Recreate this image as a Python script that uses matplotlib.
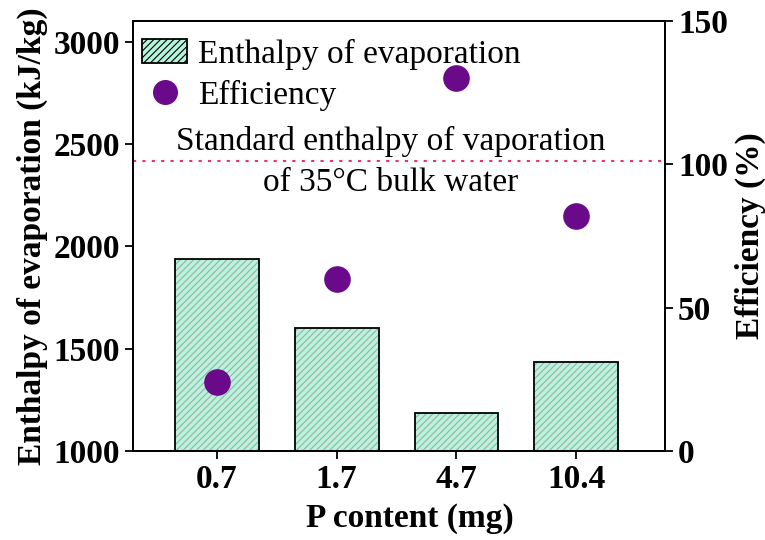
import matplotlib
matplotlib.use("Agg")
import matplotlib.pyplot as plt
from matplotlib.patches import Patch
from matplotlib.lines import Line2D

plt.rcParams['font.family'] = ['Liberation Serif', 'DejaVu Serif']
plt.rcParams['hatch.linewidth'] = 0.8

p_content = ["0.7", "1.7", "4.7", "10.4"]
enthalpy = [1937, 1601, 1186, 1435]
efficiency = [24, 60, 130, 82]
bulk_water = 2418

fig = plt.figure(figsize=(7.65, 5.4), dpi=100)
ax = fig.add_axes([0.174, 0.165, 0.695, 0.796])
x = range(len(p_content))

# fill + grey hatch first, then black outline on top
ax.bar(x, enthalpy, width=0.7, color="#b4f5dc", edgecolor="#a8a8a8",
       hatch="/////", linewidth=0, zorder=2)
ax.bar(x, enthalpy, width=0.7, facecolor="none", edgecolor="black",
       linewidth=1.3, zorder=3)
ax.axhline(bulk_water, color="#e8307a", linestyle=(0, (1.5, 3)), linewidth=1.5, zorder=1)
ax.text(1.45, bulk_water + 20, "Standard enthalpy of vaporation", ha="center",
        va="bottom", fontsize=24)
ax.text(1.45, bulk_water - 32, "of 35\u00b0C bulk water", ha="center",
        va="top", fontsize=24)

ax.set_ylim(1000, 3100)
ax.set_xlim(-0.7, 3.74)
ax.set_yticks([1000, 1500, 2000, 2500, 3000])
ax.set_xticks(list(x))
ax.set_xticklabels(p_content)
ax.set_xlabel("P content (mg)", fontsize=24, fontweight="bold", labelpad=6)
ax.xaxis.label.set_x(0.52)
ax.set_ylabel("Enthalpy of evaporation (kJ/kg)", fontsize=24, fontweight="bold", labelpad=4)
ax.tick_params(axis="both", labelsize=24, width=1.3, length=6)
for lab in ax.get_xticklabels() + ax.get_yticklabels():
    lab.set_fontweight("bold")
for s in ax.spines.values():
    s.set_linewidth(1.3)

ax2 = ax.twinx()
ax2.scatter(x, efficiency, s=330, color="#6a0a8a", zorder=5)
ax2.set_ylim(0, 150)
ax2.set_yticks([0, 50, 100, 150])
ax2.set_ylabel("Efficiency (%)", fontsize=24, fontweight="bold", labelpad=5)
ax2.tick_params(axis="y", labelsize=24, width=1.3, length=6)
for lab in ax2.get_yticklabels():
    lab.set_fontweight("bold")
for s in ax2.spines.values():
    s.set_linewidth(1.3)

handles = [Patch(facecolor="#b4f5dc", edgecolor="black", hatch="/////", linewidth=1.3),
           Line2D([], [], linestyle="none", marker="o", markersize=17, color="#6a0a8a")]
ax2.legend(handles, ["Enthalpy of evaporation", "Efficiency"], loc="upper left",
           bbox_to_anchor=(0.0, 0.98), frameon=False, fontsize=24,
           handlelength=1.35, handleheight=0.7, borderaxespad=0.1, borderpad=0.17,
           handletextpad=0.33, labelspacing=0.3)

fig.savefig("out.png", dpi=100)
